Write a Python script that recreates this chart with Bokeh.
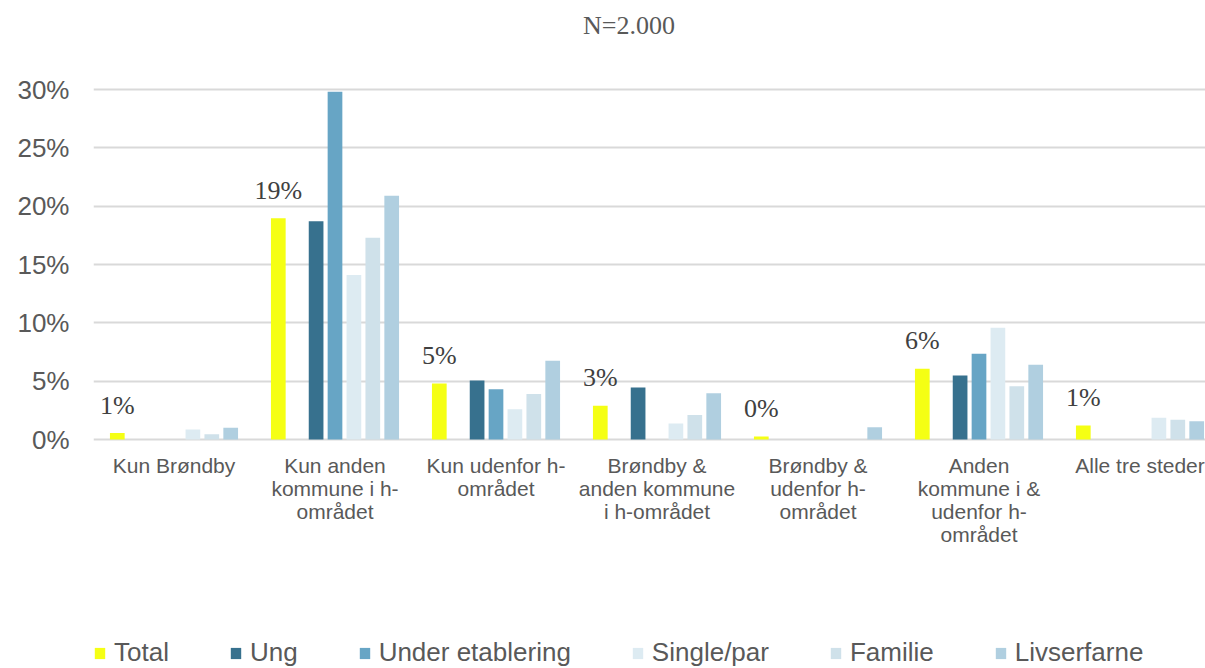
from bokeh.plotting import figure
from bokeh.layouts import column
from bokeh.models import Range1d, FixedTicker, PrintfTickFormatter, Legend, LegendItem, Label
from bokeh.core.properties import value
from bokeh.embed import file_html
from bokeh.resources import INLINE

# ---------------- data ----------------
categories = [
    "Kun Brøndby",
    "Kun anden kommune i h-området",
    "Kun udenfor h-området",
    "Brøndby & anden kommune i h-området",
    "Brøndby & udenfor h-området",
    "Anden kommune i & udenfor h-området",
    "Alle tre steder",
]
category_labels = [
    "Kun Brøndby",
    "Kun anden\nkommune i h-\nområdet",
    "Kun udenfor h-\nområdet",
    "Brøndby &\nanden kommune\ni h-området",
    "Brøndby &\nudenfor h-\nområdet",
    "Anden\nkommune i &\nudenfor h-\nområdet",
    "Alle tre steder",
]
series_names = ["Total", "Ung", "Under etablering", "Single/par", "Familie", "Livserfarne"]
total = [0.55, 18.97, 4.8, 2.9, 0.26, 6.06, 1.2]
ung = [0.0, 18.7, 5.06, 4.46, 0.0, 5.49, 0.0]
under_etablering = [0.0, 29.8, 4.3, 0.0, 0.0, 7.34, 0.0]
single_par = [0.85, 14.1, 2.6, 1.37, 0.0, 9.57, 1.86]
familie = [0.45, 17.3, 3.9, 2.1, 0.0, 4.57, 1.69]
livserfarne = [1.0, 20.9, 6.75, 3.97, 1.06, 6.4, 1.57]
title_text = "N=2.000"
y_ticks = [0, 5, 10, 15, 20, 25, 30]

# ---------------- style ----------------
series_values = [total, ung, under_etablering, single_par, familie, livserfarne]
colors = ["#F5FF14", "#37718E", "#67A5C5", "#DDEBF2", "#CFE1EA", "#B0CFE0"]
slot_index = [0, 2, 3, 4, 5, 6]   # slot 1 is an empty series in the original
n_slots = 7
cat_px = 161.0
slot_w = 18.9 / cat_px
bar_w = 14.7 / cat_px
px_per_pct = 350.0 / 30.0

W, H = 1205, 668
LEG_H = 36
H_MAIN = H - LEG_H
LEFT = 93
FRAME_BOTTOM = 441
frame_w = W - LEFT
p = figure(width=W, height=H_MAIN, output_backend="svg", toolbar_location=None,
           x_range=Range1d(-0.5, -0.5 + frame_w / cat_px),
           y_range=Range1d(-2.0 / px_per_pct, -2.0 / px_per_pct + FRAME_BOTTOM / px_per_pct),
           min_border_left=LEFT, min_border_right=0,
           min_border_top=0, min_border_bottom=H_MAIN - FRAME_BOTTOM)
p.outline_line_color = None
p.background_fill_color = "white"
p.border_fill_color = "white"

# title as label inside the (tall) frame
p.add_layout(Label(x=628.5 - LEFT, y=FRAME_BOTTOM - 25, x_units="screen", y_units="screen",
                   text=title_text, text_align="center", text_baseline="middle",
                   text_font="Liberation Serif", text_font_size="26px",
                   text_color="#595959"))

# axes
yaxis = p.yaxis[0]
yaxis.ticker = FixedTicker(ticks=y_ticks)
yaxis.formatter = PrintfTickFormatter(format="%d%%")
yaxis.axis_line_color = None
yaxis.major_tick_line_color = None
yaxis.minor_tick_line_color = None
yaxis.major_label_text_font = "Liberation Sans"
yaxis.major_label_text_font_size = "26px"
yaxis.major_label_text_color = "#595959"
yaxis.major_label_standoff = 18

xaxis = p.xaxis[0]
xaxis.ticker = FixedTicker(ticks=list(range(len(categories))))
xaxis.major_label_overrides = {i: lab for i, lab in enumerate(category_labels)}
xaxis.axis_line_color = None
xaxis.major_tick_line_color = None
xaxis.minor_tick_line_color = None
xaxis.major_label_text_font = "Liberation Sans"
xaxis.major_label_text_font_size = "21px"
xaxis.major_label_text_color = "#595959"
xaxis.major_label_text_line_height = 1.0
xaxis.major_label_standoff = 6

p.xgrid.grid_line_color = None
p.ygrid.ticker = FixedTicker(ticks=y_ticks)
p.ygrid.grid_line_color = "#D9D9D9"
p.ygrid.grid_line_width = 2

# bars
xs = list(range(len(categories)))
for name, vals, col, slot in zip(series_names, series_values, colors, slot_index):
    off = (slot - (n_slots - 1) / 2) * slot_w
    p.vbar(x=[x + off for x in xs], top=vals, bottom=0, width=bar_w,
           fill_color=col, line_color=None)

# data labels on Total
off0 = (slot_index[0] - (n_slots - 1) / 2) * slot_w
p.text(x=[x + off0 for x in xs], y=total, text=[f"{round(v)}%" for v in total],
       text_align="center", text_baseline="middle", y_offset=-28,
       text_font=value("Liberation Serif"), text_font_size="26px",
       text_color="#404040")

# ---------------- legend strip ----------------
# proxy renderers hold the same series, but lie outside this strip's view
lg = figure(width=W, height=LEG_H, output_backend="svg", toolbar_location=None,
            x_range=Range1d(-100, -99), y_range=Range1d(0, 1),
            x_axis_location=None, y_axis_location=None,
            min_border=0)
lg.outline_line_color = None
lg.xgrid.visible = False
lg.ygrid.visible = False
lg.background_fill_color = "white"
lg.border_fill_color = "white"
items = []
for name, vals, col in zip(series_names, series_values, colors):
    r = lg.vbar(x=xs, top=vals, bottom=0, width=bar_w, fill_color=col, line_color=None)
    items.append(LegendItem(label=name, renderers=[r]))
legend = Legend(items=items, orientation="horizontal", location="bottom_left",
                glyph_width=13, glyph_height=14, label_standoff=8, spacing=60,
                label_text_font="Liberation Sans", label_text_font_size="26px",
                label_text_color="#595959", padding=0, margin=0,
                border_line_color=None, background_fill_alpha=0)
lg.add_layout(legend, "center")

layout = column(p, lg, spacing=0)
open("out.html", "w").write(file_html(layout, INLINE))
